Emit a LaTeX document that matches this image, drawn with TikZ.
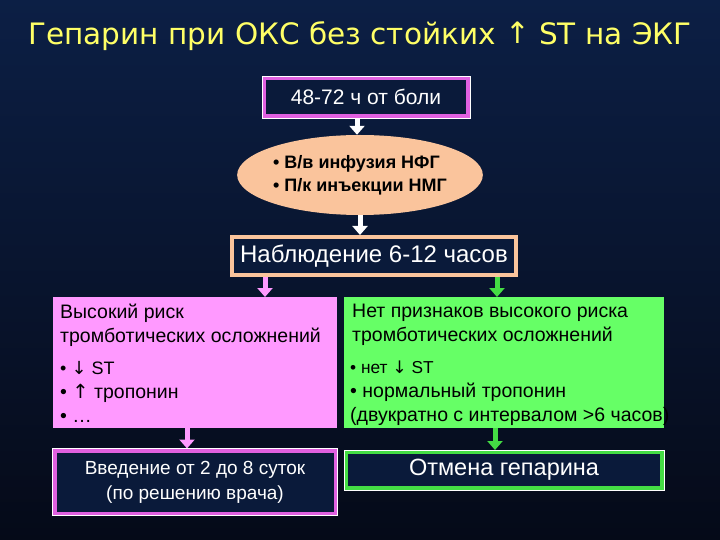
\documentclass[tikz,border=0pt]{standalone}
\usepackage{fontspec}
\setmainfont{Liberation Sans}
\newfontfamily\titlefont{DejaVu Sans}
\usetikzlibrary{arrows.meta,shapes.geometric}
\definecolor{bgtop}{HTML}{0C1F45}
\definecolor{bgbot}{HTML}{050A18}
\definecolor{pinkc}{HTML}{FF99FF}
\definecolor{pinkb}{HTML}{E060E0}
\definecolor{greenc}{HTML}{66FF66}
\definecolor{greenb}{HTML}{44DD44}
\definecolor{peach}{HTML}{FAC49C}
\definecolor{boxbg}{HTML}{0A1A3A}
\definecolor{titley}{HTML}{FFFF66}
\tikzset{
  frame/.style={draw=#1,line width=4pt,fill=boxbg,text=white,inner sep=0pt},
  arr/.style={draw=#1,line width=5pt,-{Triangle[width=15pt,length=9pt]}},
  arr/.default=white,
  txt/.style={text=black,align=left,anchor=north west,inner sep=0pt,font=\fontsize{19.5}{24}\selectfont}
}
\begin{document}
\begin{tikzpicture}[x=1pt,y=-1pt]
\shade[top color=bgtop,bottom color=bgbot] (0,0) rectangle (720,540);
\useasboundingbox (0,0) rectangle (720,540);
\node[text=titley,font=\titlefont\fontsize{29.5}{32}\selectfont] (title) at (360,36) {Гепарин при ОКС без стойких \raisebox{1pt}{↑} ST на ЭКГ};
% box 1
\node[frame=pinkb,minimum width=204pt,minimum height=38pt,font=\fontsize{21}{24}\selectfont] (b1) at (366,97) {48-72 ч от боли};
\draw[white,line width=0.8pt] (b1.north west) rectangle (b1.south east);
% ellipse
\node[ellipse,fill=peach,minimum width=240pt,minimum height=80pt,inner sep=0pt,align=left,font=\bfseries\fontsize{18}{23}\selectfont] (el) at (360,175) {• В/в инфузия НФГ\\• П/к инъекции НМГ};
% box3
\node[frame=peach,minimum width=284pt,minimum height=38pt,font=\fontsize{24}{28}\selectfont] (b3) at (374,256) {Наблюдение 6-12 часов};
% pink and green
\node[fill=pinkc,minimum width=284pt,minimum height=131pt,anchor=north west,inner sep=0pt] (pk) at (53,297) {};
\node[txt] (pkt) at (60,304) {Высокий риск\\тромботических осложнений};
\node[txt] (pkl) at (60,361) {\fontsize{18}{21.5}\selectfont • {\titlefont↓} ST\\• {\titlefont↑} тропонин\\• …};
\node[fill=greenc,minimum width=320pt,minimum height=131pt,anchor=north west,inner sep=0pt] (gr) at (344,297) {};
\node[txt] (grt) at (352,304) {Нет признаков высокого риска\\тромботических осложнений};
\node[txt] (grl) at (350,361) {\fontsize{17.3}{21.5}\selectfont • нет {\titlefont↓} ST\\• нормальный тропонин\\(двукратно с интервалом >6 часов)};
% bottom boxes
\node[frame=pinkb,minimum width=281pt,minimum height=63pt,align=center,font=\fontsize{19}{25}\selectfont] (bl) at (195,482) {Введение от 2 до 8 суток\\(по решению врача)};
\draw[white,line width=0.8pt] (bl.north west) rectangle (bl.south east);
\node[frame=greenb,minimum width=316pt,minimum height=36pt,font=\fontsize{23.5}{26}\selectfont] (br) at (504,470) {Отмена гепарина};
\draw[white,line width=0.8pt] (br.north west) rectangle (br.south east);
% arrows
\draw[arr] (b1.south -| 357,0) -- (el.north -| 357,0);
\draw[arr] (el.south) -- (b3.north -| el.south);
\draw[arr=pinkc] (b3.south -| 265,0) -- (pk.north -| 265,0);
\draw[arr=greenb] (b3.south -| 497,0) -- (gr.north -| 497,0);
\draw[arr=pinkc] (pk.south -| 187,0) -- (bl.north -| 187,0);
\draw[arr=greenb] (gr.south -| 495,0) -- (br.north -| 495,0);
\end{tikzpicture}
\end{document}
